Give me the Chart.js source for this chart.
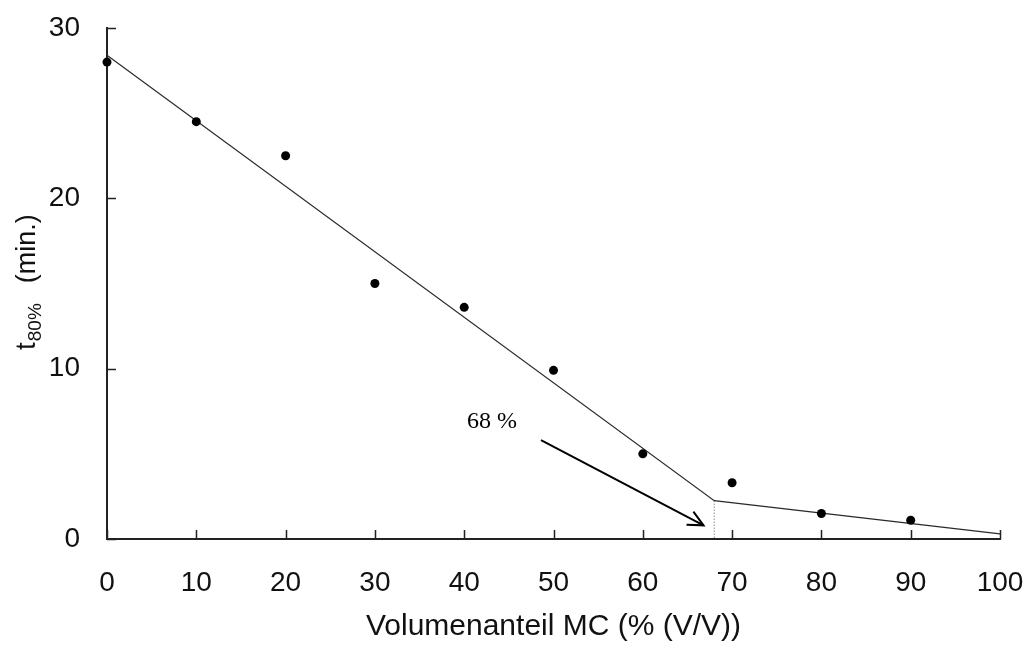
<!DOCTYPE html>
<html>
<head>
<meta charset="utf-8">
<script src="https://cdn.jsdelivr.net/npm/chart.js@4.4.0/dist/chart.umd.min.js"></script>
<style>
  html, body { margin: 0; padding: 0; background: #fff; }
  #wrap { width: 1027px; height: 647px; }
</style>
</head>
<body>
<div id="wrap"><canvas id="c" width="1027" height="647"></canvas></div>
<script>
// Measured release times t80% against the MC volume fraction
const volumeFractions = [0, 10, 20, 30, 40, 50, 60, 70, 80, 90];
const t80Minutes = [28.0, 24.5, 22.5, 15.0, 13.6, 9.9, 5.0, 3.3, 1.5, 1.1];

// Two-segment linear fit with its break point
const fitX = [0, 68, 100];
const fitY = [28.4, 2.25, 0.3];
const breakPoint = 68;
const breakLabel = '68 %';

// Annotation arrow (data coordinates) and label anchor
const arrowFrom = [48.6, 5.8];
const arrowTo = [66.8, 0.8];
const labelAt = [40.3, 6.9];

// Axis ticks
const xTicks = [0, 10, 20, 30, 40, 50, 60, 70, 80, 90, 100];
const yTicks = [0, 10, 20, 30];

const SANS = '"Liberation Sans", Arial, sans-serif';
const SERIF = '"Liberation Serif", "Times New Roman", serif';
const INK = '#111';

Chart.defaults.font.family = SANS;
Chart.defaults.color = INK;

const pts = (xs, ys) => xs.map((x, i) => ({ x: x, y: ys[i] }));

const annotations = {
  id: 'annotations',
  afterDraw(chart) {
    const ctx = chart.ctx;
    const xs = chart.scales.x, ys = chart.scales.y;
    const area = chart.chartArea;
    ctx.save();

    // inward tick marks
    ctx.strokeStyle = '#222';
    ctx.lineWidth = 1.5;
    ctx.beginPath();
    yTicks.forEach(v => {
      const py = Math.round(ys.getPixelForValue(v)) + 0.5;
      ctx.moveTo(area.left, py);
      ctx.lineTo(area.left + 9, py);
    });
    xTicks.forEach(v => {
      const px = Math.round(xs.getPixelForValue(v)) + 0.5;
      ctx.moveTo(px, area.bottom);
      ctx.lineTo(px, area.bottom - 9);
    });
    ctx.stroke();

    // arrow head
    const x0 = xs.getPixelForValue(arrowFrom[0]), y0 = ys.getPixelForValue(arrowFrom[1]);
    const x1 = xs.getPixelForValue(arrowTo[0]), y1 = ys.getPixelForValue(arrowTo[1]);
    const ang = Math.atan2(y1 - y0, x1 - x0);
    const len = 17, spread = 0.45;
    ctx.strokeStyle = '#000';
    ctx.lineWidth = 2;
    ctx.beginPath();
    ctx.moveTo(x1 - len * Math.cos(ang - spread), y1 - len * Math.sin(ang - spread));
    ctx.lineTo(x1, y1);
    ctx.lineTo(x1 - len * Math.cos(ang + spread), y1 - len * Math.sin(ang + spread));
    ctx.stroke();

    // break point label
    ctx.fillStyle = '#000';
    ctx.font = '24px ' + SERIF;
    ctx.textAlign = 'left';
    ctx.textBaseline = 'middle';
    ctx.fillText(breakLabel, xs.getPixelForValue(labelAt[0]), ys.getPixelForValue(labelAt[1]));

    // y axis title with subscript
    ctx.translate(35, 350);
    ctx.rotate(-Math.PI / 2);
    ctx.fillStyle = INK;
    ctx.textBaseline = 'alphabetic';
    ctx.font = '28px ' + SANS;
    ctx.fillText('t', 0, 0);
    const tw = ctx.measureText('t').width;
    ctx.font = '19px ' + SANS;
    ctx.fillText('80%', tw + 1, 6);
    const sw = ctx.measureText('80%').width;
    ctx.font = '27px ' + SANS;
    ctx.fillText('(min.)', tw + 1 + sw + 20, 0);

    ctx.restore();
  }
};

new Chart(document.getElementById('c'), {
  type: 'scatter',
  data: {
    datasets: [
      {
        data: pts(volumeFractions, t80Minutes),
        showLine: false,
        pointRadius: 4.5,
        pointBackgroundColor: '#000',
        pointBorderColor: '#000',
        pointBorderWidth: 0,
        clip: false
      },
      {
        data: pts(fitX, fitY),
        showLine: true,
        pointRadius: 0,
        borderColor: '#2a2a2a',
        borderWidth: 1.2,
        clip: false
      },
      {
        data: pts([breakPoint, breakPoint], [fitY[1], 0]),
        showLine: true,
        pointRadius: 0,
        borderColor: '#555',
        borderWidth: 1,
        borderDash: [1, 2]
      },
      {
        data: pts([arrowFrom[0], arrowTo[0]], [arrowFrom[1], arrowTo[1]]),
        showLine: true,
        pointRadius: 0,
        borderColor: '#000',
        borderWidth: 2
      }
    ]
  },
  options: {
    responsive: false,
    animation: false,
    events: [],
    layout: { padding: { top: 28, right: 27, left: 0, bottom: 0 } },
    plugins: { legend: { display: false }, tooltip: { enabled: false } },
    scales: {
      x: {
        type: 'linear',
        min: 0,
        max: 100,
        afterFit: s => { s.height = 108; s.paddingLeft = 0; s.paddingRight = 0; },
        afterBuildTicks: s => { s.ticks = xTicks.map(v => ({ value: v })); },
        ticks: { font: { size: 28 }, color: INK, padding: 27, maxRotation: 0 },
        grid: { display: false, drawTicks: false },
        border: { display: true, color: '#222', width: 2 },
        title: {
          display: true,
          text: 'Volumenanteil MC (% (V/V))',
          font: { size: 30 },
          color: INK,
          padding: { top: 0, bottom: 2 }
        }
      },
      y: {
        type: 'linear',
        min: 0,
        max: 30,
        afterFit: s => { s.width = 107; s.paddingTop = 0; s.paddingBottom = 0; },
        afterBuildTicks: s => { s.ticks = yTicks.map(v => ({ value: v })); },
        ticks: { font: { size: 28 }, color: INK, padding: 27 },
        grid: { display: false, drawTicks: false },
        border: { display: true, color: '#222', width: 2 }
      }
    }
  },
  plugins: [annotations]
});
</script>
</body>
</html>
